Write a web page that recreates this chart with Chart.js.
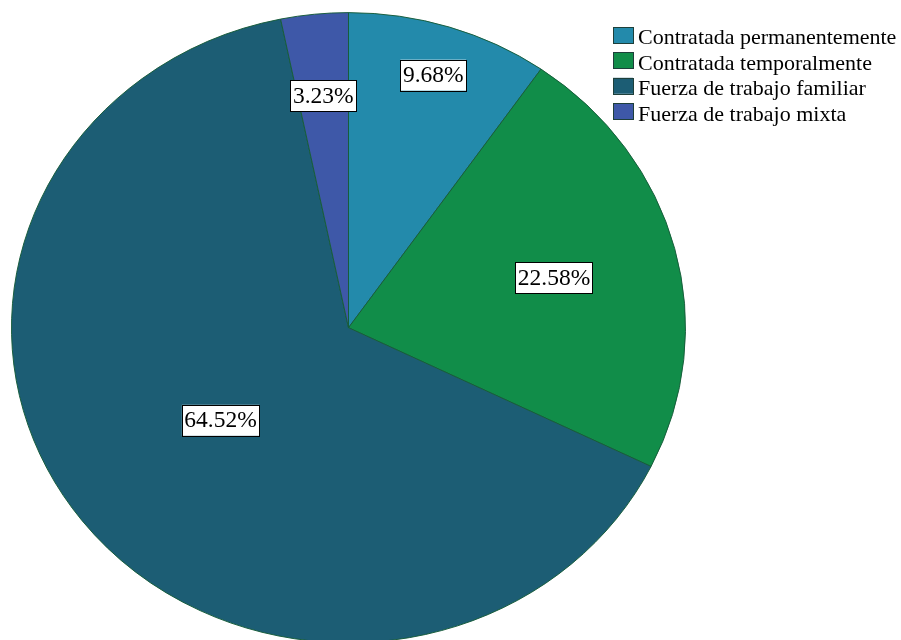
<!DOCTYPE html>
<html>
<head>
<meta charset="utf-8">
<script src="https://cdn.jsdelivr.net/npm/chart.js@4"></script>
<style>
  body { margin: 0; background: #fff; }
  #wrap { width: 901px; height: 640px; overflow: hidden; }
</style>
</head>
<body>
<div id="wrap"><canvas id="pie" width="901" height="690"></canvas></div>
<script>
// Tipo de mano de obra (porcentaje de fincas)
const categories = [
  'Contratada permanentemente',
  'Contratada temporalmente',
  'Fuerza de trabajo familiar',
  'Fuerza de trabajo mixta'
];
const percents = [9.68, 22.58, 64.52, 3.23];
const sliceColors = ['#238aab', '#118d49', '#1c5d74', '#3e58a8'];

const serif = '"Liberation Serif", "Times New Roman", serif';
const squash = 0.935; // pie is drawn a little flatter than a circle

// flatten the pie vertically
const ellipsePlugin = {
  id: 'ellipse',
  beforeDatasetsDraw(chart) {
    chart.ctx.save();
    chart.ctx.scale(1, squash);
  },
  afterDatasetsDraw(chart) {
    chart.ctx.restore();
  }
};

// percentage boxes inside the slices
const labelFractions = [0.84, 0.63, 0.48, 0.74];
const boxLabels = {
  id: 'boxLabels',
  afterDraw(chart) {
    const ctx = chart.ctx;
    const arcs = chart.getDatasetMeta(0).data;
    ctx.save();
    ctx.font = '23.5px ' + serif;
    ctx.textAlign = 'center';
    ctx.textBaseline = 'middle';
    arcs.forEach((arc, i) => {
      const p = arc.getProps(['x', 'y', 'startAngle', 'endAngle', 'outerRadius'], true);
      const mid = (p.startAngle + p.endAngle) / 2;
      const r = p.outerRadius * labelFractions[i];
      const px = p.x + Math.cos(mid) * r;
      const py = (p.y + Math.sin(mid) * r) * squash;
      const text = percents[i].toFixed(2) + '%';
      const w = ctx.measureText(text).width + 5;
      const h = 31;
      ctx.fillStyle = '#fff';
      ctx.fillRect(px - w / 2, py - h / 2, w, h);
      ctx.strokeStyle = '#000';
      ctx.lineWidth = 1;
      ctx.strokeRect(Math.round(px - w / 2) + 0.5, Math.round(py - h / 2) + 0.5, Math.round(w), h);
      ctx.fillStyle = '#000';
      ctx.fillText(text, px, py + 1);
    });
    ctx.restore();
  }
};

// legend in the top right corner
const cornerLegend = {
  id: 'cornerLegend',
  afterDraw(chart) {
    const ctx = chart.ctx;
    const left = 613, top = 27, row = 25.4;
    ctx.save();
    ctx.font = '22px ' + serif;
    ctx.textBaseline = 'alphabetic';
    ctx.textAlign = 'left';
    chart.data.labels.forEach((label, i) => {
      const y = top + i * row;
      ctx.fillStyle = sliceColors[i];
      ctx.fillRect(left, y, 20, 16);
      ctx.strokeStyle = '#1e3f3a';
      ctx.lineWidth = 1;
      ctx.strokeRect(left + 0.5, Math.round(y) + 0.5, 20, 16);
      ctx.fillStyle = '#000';
      ctx.fillText(label, left + 25, y + 17.3);
    });
    ctx.restore();
  }
};

new Chart(document.getElementById('pie'), {
  type: 'pie',
  data: {
    labels: categories,
    datasets: [{
      data: percents,
      backgroundColor: sliceColors,
      borderColor: '#175c3a',
      borderWidth: 1,
      hoverOffset: 0,
      clip: false
    }]
  },
  options: {
    responsive: false,
    devicePixelRatio: 1,
    animation: false,
    events: [],
    layout: { padding: { left: 11, right: 215, top: 13, bottom: 2 } },
    plugins: {
      legend: { display: false },
      tooltip: { enabled: false }
    }
  },
  plugins: [ellipsePlugin, boxLabels, cornerLegend]
});
</script>
</body>
</html>
